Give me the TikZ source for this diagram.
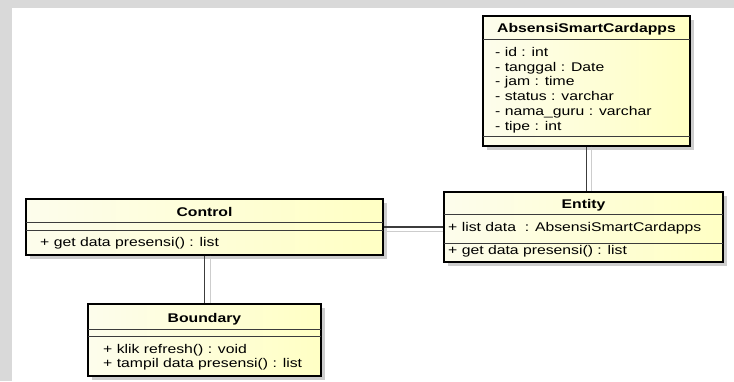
\documentclass[tikz,border=0pt]{standalone}
\usepackage{fontspec}
\setmainfont{Liberation Sans}
\usepackage{graphicx}
\usetikzlibrary{shadows}

\definecolor{pagegray}{RGB}{217,217,217}
\definecolor{boxleft}{RGB}{253,253,236}
\definecolor{boxright}{RGB}{255,255,196}
\definecolor{shadowgray}{RGB}{205,205,205}
\definecolor{linkgray}{RGB}{60,60,60}

\newcommand{\umlfont}{\fontsize{12.6}{14.8}\selectfont}
\newcommand{\wide}[1]{\scalebox{1.25}[1]{#1}}

\tikzset{
  classbox/.style={draw=black, line width=1.4pt, inner sep=0pt,
    left color=boxleft, right color=boxright,
    drop shadow={shadow xshift=4pt, shadow yshift=-4pt, fill=shadowgray, opacity=1}},
  sepline/.style={draw=linkgray, line width=0.8pt},
  classname/.style={anchor=base, inner sep=0pt, font=\umlfont\bfseries},
  member/.style={anchor=base west, inner sep=0pt, font=\umlfont},
  link/.style={draw=linkgray, line width=1.3pt},
  linkshadow/.style={draw=shadowgray, line width=1pt}
}

\begin{document}
\begin{tikzpicture}[x=1pt, y=-1pt]
\useasboundingbox (0,0) rectangle (734,381);
% page background
\path [fill=pagegray] (0,0) rectangle (734,381);
\path [fill=white] (12,8) rectangle (734,381);

% classes
\node [classbox, minimum width=207pt, minimum height=130pt] (absensi) at (586.5,81) {};
\node [classbox, minimum width=279pt, minimum height=70pt] (entity) at (583.5,227) {};
\node [classbox, minimum width=357pt, minimum height=56pt] (control) at (204.5,227) {};
\node [classbox, minimum width=233pt, minimum height=72pt] (boundary) at (204.5,340) {};

% connectors
\draw [linkshadow] ([xshift=5pt]absensi.south) -- ([xshift=5pt]absensi.south |- entity.north);
\draw [link] (absensi.south) -- (absensi.south |- entity.north);
\draw [linkshadow] ([yshift=-4pt]control.east) -- ([yshift=-4pt]entity.west);
\draw [link] (control.east) -- (entity.west);
\draw [linkshadow] ([xshift=6pt]control.south) -- ([xshift=6pt]boundary.north);
\draw [link] (control.south) -- (boundary.north);

% AbsensiSmartCardapps
\node [classname] (absensi-name) at (586.5,32.5) {\wide{AbsensiSmartCardapps}};
\draw [sepline] (483,39) -- (690,39);
\foreach \attr [count=\i] in {- id : int, - tanggal : Date, - jam : time,
    - status : varchar, - nama\_guru : varchar, - tipe : int}
  \node [member] (absensi-\i) at (495,{41.5+14.8*\i}) {\wide{\attr}};
\draw [sepline] (483,136) -- (690,136);

% Entity
\node [classname] (entity-name) at (583.5,208) {\wide{Entity}};
\draw [sepline] (444,214) -- (723,214);
\node [member] (entity-1) at (448,231) {\wide{+ list data\ \ : AbsensiSmartCardapps}};
\draw [sepline] (444,243) -- (723,243);
\node [member] (entity-2) at (448,254) {\wide{+ get data presensi() : list}};

% Control
\node [classname] (control-name) at (204.5,216) {\wide{Control}};
\draw [sepline] (26,222) -- (383,222);
\draw [sepline] (26,230) -- (383,230);
\node [member] (control-1) at (40,246) {\wide{+ get data presensi() : list}};

% Boundary
\node [classname] (boundary-name) at (204.5,322) {\wide{Boundary}};
\draw [sepline] (88,329) -- (321,329);
\draw [sepline] (88,336) -- (321,336);
\node [member] (boundary-1) at (103,353) {\wide{+ klik refresh() : void}};
\node [member] (boundary-2) at (103,367.5) {\wide{+ tampil data presensi() : list}};
\end{tikzpicture}
\end{document}
